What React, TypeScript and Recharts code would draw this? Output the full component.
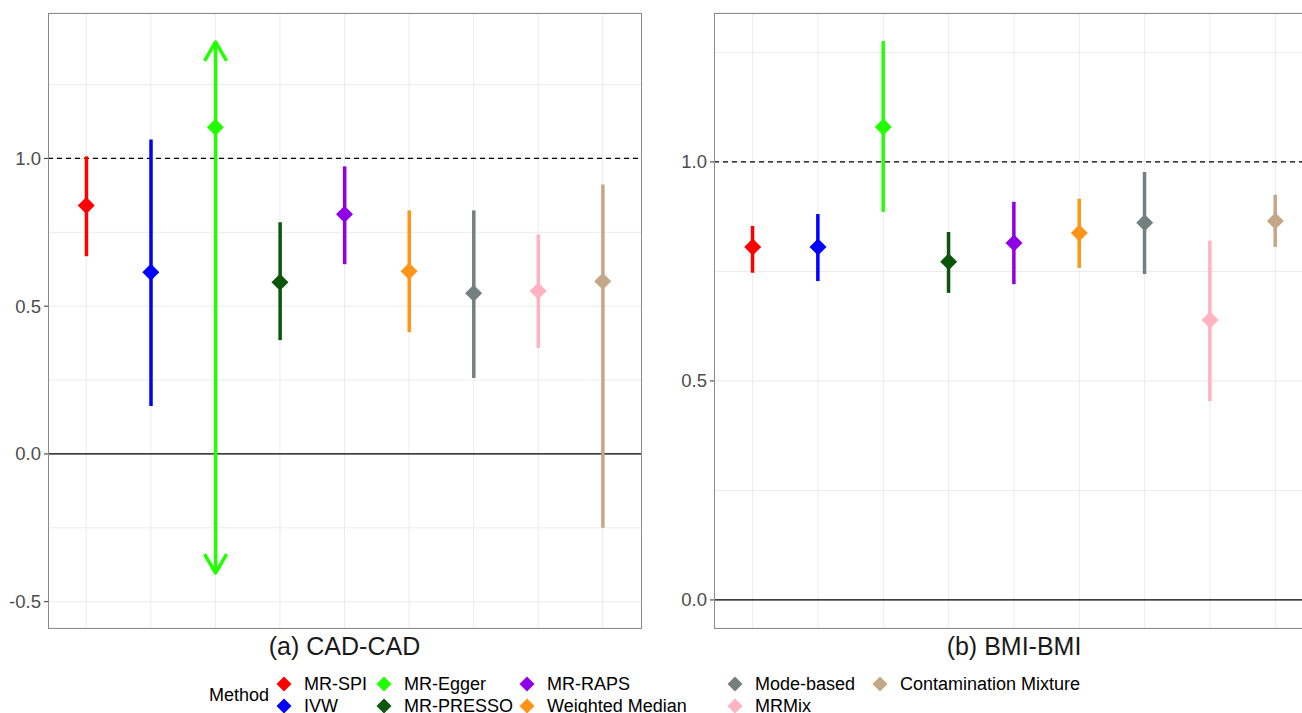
import React from 'react';
import { ComposedChart, Bar, Line, XAxis, YAxis, CartesianGrid, ReferenceLine } from 'recharts';

const methods = [
  'MR-SPI', 'IVW', 'MR-Egger', 'MR-PRESSO', 'MR-RAPS',
  'Weighted Median', 'Mode-based', 'MRMix', 'Contamination Mixture',
];
const methodColors = [
  '#ff0000', '#0000ff', '#22ff00', '#0c560c', '#9000e6',
  '#ff9416', '#748080', '#ffb3c1', '#c4a787',
];

// (a) CAD-CAD
const cadEst = [0.841, 0.615, 1.105, 0.581, 0.811, 0.618, 0.544, 0.551, 0.584];
const cadLow = [0.669, 0.162, -0.403, 0.385, 0.642, 0.412, 0.257, 0.358, -0.25];
const cadHigh = [1.007, 1.064, 1.394, 0.784, 0.973, 0.824, 0.824, 0.743, 0.912];
const cadTicks = [-0.5, -0.25, 0, 0.25, 0.5, 0.75, 1, 1.25];
const cadDomain: [number, number] = [-0.589, 1.492];

// (b) BMI-BMI
const bmiEst = [0.806, 0.806, 1.080, 0.772, 0.815, 0.838, 0.861, 0.639, 0.865];
const bmiLow = [0.747, 0.728, 0.886, 0.701, 0.721, 0.758, 0.744, 0.454, 0.806];
const bmiHigh = [0.854, 0.881, 1.276, 0.840, 0.909, 0.916, 0.977, 0.820, 0.925];
const bmiTicks = [0, 0.25, 0.5, 0.75, 1, 1.25];
const bmiDomain: [number, number] = [-0.064, 1.34];

const FONT = '"Liberation Sans", Arial, Helvetica, sans-serif';

function buildRows(est: number[], low: number[], high: number[]) {
  return methods.map((m, i) => ({
    method: m,
    est: est[i],
    range: [low[i], high[i]],
    color: methodColors[i],
  }));
}

const makeErrShape = (arrowMethods: string[]) => (props: any) => {
  const { x, y, width, height, payload } = props;
  if (x == null || y == null) return <g />;
  const cx = x + width / 2;
  const top = Math.min(y, y + height);
  const bot = Math.max(y, y + height);
  const c = payload.color;
  const arrow = arrowMethods.includes(payload.method);
  return (
    <g>
      <line x1={cx} x2={cx} y1={top} y2={bot} stroke={c} strokeWidth={3.5} />
      {arrow && (
        <polyline
          points={`${cx - 11},${top + 19} ${cx},${top} ${cx + 11},${top + 19}`}
          fill="none" stroke={c} strokeWidth={3.5} strokeLinejoin="round" strokeLinecap="butt"
        />
      )}
      {arrow && (
        <polyline
          points={`${cx - 11},${bot - 19} ${cx},${bot} ${cx + 11},${bot - 19}`}
          fill="none" stroke={c} strokeWidth={3.5} strokeLinejoin="round" strokeLinecap="butt"
        />
      )}
    </g>
  );
};

const diamondDot = (props: any) => {
  const { cx, cy, payload, index } = props;
  const r = 8.5;
  if (cx == null || cy == null) return <g key={`d-${index}`} />;
  return (
    <path
      key={`d-${index}`}
      d={`M${cx},${cy - r} L${cx + r},${cy} L${cx},${cy + r} L${cx - r},${cy} Z`}
      fill={payload.color}
    />
  );
};

const makeTick = (axisX: number, show: boolean) => (props: any) => {
  const { y, payload } = props;
  const v = payload.value as number;
  const major = Math.abs(v * 2 - Math.round(v * 2)) < 1e-9;
  if (!major || !show) return <g />;
  return (
    <g>
      <line x1={axisX - 4} x2={axisX} y1={y} y2={y} stroke="#333333" strokeWidth={1} />
      <text x={axisX - 7} y={y} dy="0.35em" textAnchor="end" fontSize={18.5}
        fontFamily={FONT} fill="#4d4d4d">
        {v.toFixed(1)}
      </text>
    </g>
  );
};

type PanelProps = {
  rows: any[];
  ticks: number[];
  domain: [number, number];
  width: number;
  marginLeft: number;
  marginRight: number;
  arrowMethods: string[];
};

function Panel({ rows, ticks, domain, width, marginLeft, marginRight, arrowMethods }: PanelProps) {
  const margin = { top: 13, right: marginRight, bottom: 12, left: marginLeft };
  const xAxis = (
    <XAxis dataKey="method" type="category" tick={false} axisLine={false} tickLine={false}
      height={0} padding={{ left: 6, right: 6 }} />
  );
  return (
    <div style={{ position: 'relative', width, height: 640 }}>
      {/* background layer: grid, reference lines, y axis */}
      <div style={{ position: 'absolute', left: 0, top: 0 }}>
        <ComposedChart width={width} height={640} data={rows} margin={margin}>
          <CartesianGrid stroke="#ebebeb" strokeWidth={1} vertical={false} />
          {xAxis}
          <YAxis type="number" domain={domain} allowDataOverflow ticks={ticks} interval={0}
            width={48} axisLine={false} tickLine={false} tick={makeTick(marginLeft + 48, true)} />
          {methods.map((m) => (
            <ReferenceLine key={`g-${m}`} x={m} stroke="#ebebeb" strokeWidth={1} />
          ))}
          <ReferenceLine y={1} stroke="#000000" strokeWidth={1.2} strokeDasharray="5 4" />
          <ReferenceLine y={0} stroke="#000000" strokeWidth={1.2} />
          <Bar dataKey="range" isAnimationActive={false} shape={() => <g />} />
        </ComposedChart>
      </div>
      {/* foreground layer: intervals and estimates */}
      <div style={{ position: 'absolute', left: 0, top: 0 }}>
        <ComposedChart width={width} height={640} data={rows} margin={margin}>
          {xAxis}
          <YAxis type="number" domain={domain} allowDataOverflow ticks={ticks} interval={0}
            width={48} axisLine={false} tickLine={false} tick={makeTick(marginLeft + 48, false)} />
          <Bar dataKey="range" isAnimationActive={false} shape={makeErrShape(arrowMethods)} />
          <Line dataKey="est" isAnimationActive={false} stroke="transparent" strokeWidth={0}
            dot={diamondDot} activeDot={false} />
        </ComposedChart>
      </div>
    </div>
  );
}

const legendCols = [284, 384, 527, 735, 880];
const legendRows = [684, 706];

function LegendKey({ color, x, y, label }: { color: string; x: number; y: number; label: string }) {
  return (
    <>
      <svg style={{ position: 'absolute', left: x - 8, top: y - 8 }} width={16} height={16}>
        <path d="M8,0.5 L15.5,8 L8,15.5 L0.5,8 Z" fill={color} />
      </svg>
      <div style={{
        position: 'absolute', left: x + 20, top: y - 11, height: 22, lineHeight: '22px',
        fontSize: 18, fontFamily: FONT, color: '#000', whiteSpace: 'nowrap',
      }}>{label}</div>
    </>
  );
}

export default function App() {
  const cadRows = buildRows(cadEst, cadLow, cadHigh);
  const bmiRows = buildRows(bmiEst, bmiLow, bmiHigh);
  return (
    <div style={{
      position: 'absolute', left: 0, top: 0, width: 1302, height: 713,
      overflow: 'hidden', background: '#ffffff', fontFamily: FONT,
    }}>
      <div style={{ position: 'absolute', left: 0, top: 0 }}>
        <Panel rows={cadRows} ticks={cadTicks} domain={cadDomain} width={660}
          marginLeft={0} marginRight={19} arrowMethods={['MR-Egger']} />
      </div>
      <div style={{ position: 'absolute', left: 660, top: 0 }}>
        <Panel rows={bmiRows} ticks={bmiTicks} domain={bmiDomain} width={654}
          marginLeft={6} marginRight={0} arrowMethods={[]} />
      </div>
      {/* panel borders */}
      <div style={{
        position: 'absolute', left: 48, top: 13, width: 594, height: 616,
        border: '1px solid #8a8a8a', boxSizing: 'border-box', pointerEvents: 'none',
      }} />
      <div style={{
        position: 'absolute', left: 714, top: 13, width: 601, height: 616,
        border: '1px solid #8a8a8a', boxSizing: 'border-box', pointerEvents: 'none',
      }} />
      {/* panel titles */}
      <div style={{
        position: 'absolute', left: 48, width: 593, top: 631, lineHeight: '30px',
        textAlign: 'center', fontSize: 25, color: '#1a1a1a',
      }}>(a) CAD-CAD</div>
      <div style={{
        position: 'absolute', left: 714, width: 600, top: 631, lineHeight: '30px',
        textAlign: 'center', fontSize: 25, color: '#1a1a1a',
      }}>(b) BMI-BMI</div>
      {/* legend */}
      <div style={{
        position: 'absolute', left: 209, top: 683, lineHeight: '24px',
        fontSize: 18, color: '#000',
      }}>Method</div>
      {methods.map((m, i) => (
        <LegendKey key={m} color={methodColors[i]} label={m}
          x={legendCols[Math.floor(i / 2)]} y={legendRows[i % 2]} />
      ))}
    </div>
  );
}
